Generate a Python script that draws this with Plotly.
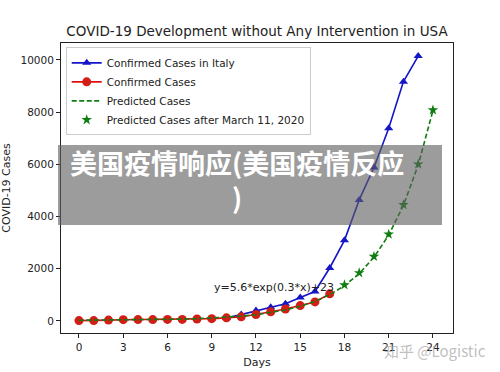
import plotly.graph_objects as go

# ---- data ----
italy_days = [10, 11, 12, 13, 14, 15, 16, 17, 18, 19, 20, 21, 22, 23]
italy_cases = [110, 250, 400, 530, 660, 900, 1130, 2030, 3090, 4640, 5880, 7380, 9170, 10150]

us_days = list(range(0, 18))
us_cases = [15, 15, 35, 50, 55, 55, 60, 60, 75, 90, 120, 160, 250, 350, 460, 590, 730, 1040]

pred_days = list(range(0, 25))
pred_cases = [29, 31, 34, 38, 43, 50, 59, 72, 89, 112, 143, 185, 242, 320, 424, 564,
              752, 1007, 1350, 1815, 2443, 3290, 4432, 5975, 8060]

after_days = [18, 19, 20, 21, 22, 23, 24]
after_cases = [1380, 1840, 2470, 3320, 4450, 6010, 8080]

x_ticks = [0, 3, 6, 9, 12, 15, 18, 21, 24]
y_ticks = [0, 2000, 4000, 6000, 8000, 10000]
y_tick_labels = ["0", "2000", "4000", "6000", "8000", "10000"]

FONT = "DejaVu Sans"
W, H = 500, 372
L, R, T, B = 61, 453, 43, 333  # plot area in pixels

fig = go.Figure()
fig.add_trace(go.Scatter(x=italy_days, y=italy_cases, mode="lines+markers",
                         name="Confirmed Cases in Italy",
                         line=dict(color="#1414c8", width=1.6),
                         marker=dict(symbol="triangle-up", size=8, color="#1414c8")))
fig.add_trace(go.Scatter(x=us_days, y=us_cases, mode="lines+markers",
                         name="Confirmed Cases",
                         line=dict(color="#e01010", width=1.6),
                         marker=dict(symbol="circle", size=9, color="#d21e16")))
fig.add_trace(go.Scatter(x=pred_days, y=pred_cases, mode="lines",
                         name="Predicted Cases",
                         line=dict(color="#107d10", width=1.6, dash="5px,2.5px")))
fig.add_trace(go.Scatter(x=after_days, y=after_cases, mode="markers",
                         name="Predicted Cases after March 11, 2020",
                         marker=dict(symbol="star", size=8, color="#107d10")))

fig.update_layout(
    width=W, height=H,
    margin=dict(l=L, r=W - R, t=T, b=H - B, autoexpand=False),
    paper_bgcolor="white", plot_bgcolor="white",
    font=dict(family=FONT, size=11, color="#222"),
    title=dict(text="COVID-19 Development without Any Intervention in USA",
               x=(L + R) / 2 / W, xanchor="center", xref="container",
               y=1 - 31 / H, yanchor="middle", yref="container",
               font=dict(family=FONT, size=13.5, color="#222")),
    showlegend=True,
    legend=dict(x=0.012, y=0.985, xanchor="left", yanchor="top",
                bgcolor="white", bordercolor="#cccccc", borderwidth=1,
                font=dict(family=FONT, size=10.5, color="#222"),
                tracegroupgap=0, itemwidth=30),
)

fig.update_xaxes(range=[-1.22, 25.36], tickvals=x_ticks, ticks="outside", ticklen=4,
                 tickcolor="#222", showline=True, linecolor="#222", linewidth=1, mirror=True,
                 showgrid=False, zeroline=False, automargin=False,
                 title=dict(text="Days", font=dict(family=FONT, size=11), standoff=6),
                 tickfont=dict(family=FONT, size=10.5, color="#222"))
fig.update_yaxes(range=[-460, 10650], tickvals=y_ticks, ticktext=y_tick_labels,
                 ticks="outside", ticklen=4,
                 tickcolor="#222", showline=True, linecolor="#222", linewidth=1, mirror=True,
                 showgrid=False, zeroline=False, automargin=False,
                 title=dict(text="COVID-19 Cases", font=dict(family=FONT, size=11), standoff=8),
                 tickfont=dict(family=FONT, size=10.5, color="#222"))

fig.add_annotation(x=9, y=950, xref="x", yref="y", text="y=5.6*exp(0.3*x)+23",
                   showarrow=False, xanchor="left", yanchor="bottom",
                   font=dict(family=FONT, size=11, color="#222"))

# grey overlay banner
def px_x(px):
    return (px - L) / (R - L)

def px_y(py):
    return (B - py) / (B - T)

fig.add_shape(type="rect", xref="paper", yref="paper",
              x0=px_x(58), x1=px_x(442), y0=px_y(225), y1=px_y(145),
              fillcolor="rgba(95,95,95,0.62)", line=dict(width=0), layer="above")
fig.add_annotation(xref="paper", yref="paper", x=px_x(237), y=px_y(180),
                   text="<b>美国疫情响应(美国疫情反应<br>)</b>", showarrow=False,
                   xanchor="center", yanchor="middle", align="center",
                   font=dict(family="Noto Sans CJK SC", size=27, color="white"))

# watermark
fig.add_annotation(xref="paper", yref="paper", x=px_x(488), y=px_y(350),
                   text="知乎 @Logistic", showarrow=False,
                   xanchor="right", yanchor="middle",
                   font=dict(family="Noto Sans CJK SC", size=15, color="rgba(170,170,170,0.75)"))

fig.write_html("out.html", config={"displayModeBar": False},
               post_script="document.body.style.margin='0';document.body.style.overflow='hidden';")
